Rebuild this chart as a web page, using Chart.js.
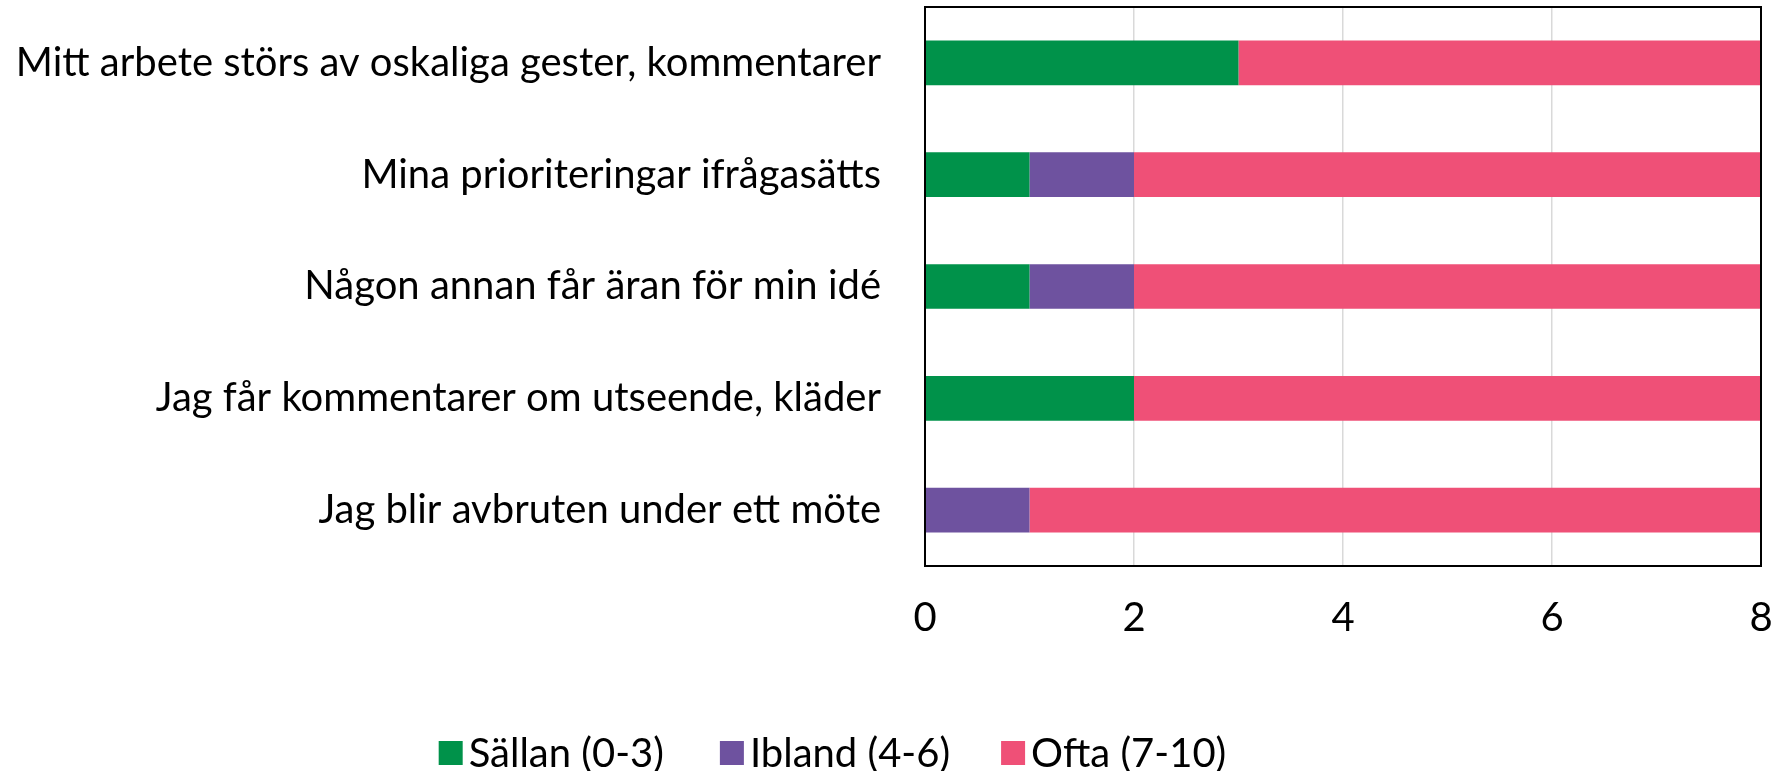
<!DOCTYPE html>
<html lang="sv">
<head>
<meta charset="utf-8">
<title>Upplevelser på jobbet</title>
<script src="https://cdn.jsdelivr.net/npm/chart.js@4.4.1/dist/chart.umd.min.js"></script>
<style>
  html, body { margin: 0; padding: 0; background: #ffffff; }
  #wrap { width: 1775px; height: 771px; position: relative; }
</style>
</head>
<body>
<div id="wrap"><canvas id="chart"></canvas></div>
<script>
// Data läst från bilden
const categories = [
  'Mitt arbete störs av oskaliga gester, kommentarer',
  'Mina prioriteringar ifrågasätts',
  'Någon annan får äran för min idé',
  'Jag får kommentarer om utseende, kläder',
  'Jag blir avbruten under ett möte'
];
const seriesNames = ['Sällan (0-3)', 'Ibland (4-6)', 'Ofta (7-10)'];
const sallan = [3, 1, 1, 2, 0];
const ibland = [0, 1, 1, 0, 1];
const ofta = [5, 6, 6, 6, 7];
const xTicks = [0, 2, 4, 6, 8];

const SERIES_COLORS = ['#00924A', '#6E529F', '#EF5077'];
const FONT_FAMILY = 'Lato, "Open Sans", sans-serif';
const FONT_SIZE = 40;

// Ram runt ritytan (som i Excel)
const plotBorder = {
  id: 'plotBorder',
  afterDatasetsDraw(chart) {
    const { ctx, chartArea: a } = chart;
    ctx.save();
    ctx.strokeStyle = '#000000';
    ctx.lineWidth = 2;
    ctx.strokeRect(a.left, a.top, a.right - a.left, a.bottom - a.top);
    ctx.restore();
  }
};

// Egen förklaring, centrerad som i originalet
const bottomLegend = {
  id: 'bottomLegend',
  afterDraw(chart) {
    const ctx = chart.ctx;
    const box = 24, gap = 6, spacing = 51;
    ctx.save();
    ctx.font = `${FONT_SIZE}px ${FONT_FAMILY}`;
    ctx.textBaseline = 'middle';
    ctx.textAlign = 'left';
    const items = chart.data.datasets.map(ds => ({
      text: ds.label,
      color: ds.backgroundColor,
      w: box + gap + ctx.measureText(ds.label).width
    }));
    const slot = Math.max(...items.map(i => i.w)) + spacing;
    const total = slot * (items.length - 1) + items[items.length - 1].w;
    let x = chart.width * 0.469 - total / 2;
    const y = chart.height - 18;
    items.forEach(it => {
      ctx.fillStyle = it.color;
      ctx.fillRect(x, y - box / 2, box, box);
      ctx.fillStyle = '#000000';
      ctx.fillText(it.text, x + box + gap, y + 1);
      x += slot;
    });
    ctx.restore();
  }
};

const datasets = [sallan, ibland, ofta].map((values, i) => ({
  label: seriesNames[i],
  data: values,
  backgroundColor: SERIES_COLORS[i],
  borderWidth: 0,
  categoryPercentage: 1.0,
  barPercentage: 0.4
}));

new Chart(document.getElementById('chart'), {
  type: 'bar',
  data: { labels: categories, datasets: datasets },
  options: {
    indexAxis: 'y',
    responsive: true,
    maintainAspectRatio: false,
    animation: false,
    layout: { padding: { top: 7, right: 14, bottom: 105, left: 0 } },
    plugins: {
      legend: { display: false },
      tooltip: { enabled: false }
    },
    scales: {
      x: {
        stacked: true,
        min: xTicks[0],
        max: xTicks[xTicks.length - 1],
        afterBuildTicks: scale => { scale.ticks = xTicks.map(v => ({ value: v })); },
        afterFit: scale => {
          scale.height = 100;
          scale.paddingLeft = 0;
          scale.paddingRight = 0;
        },
        ticks: {
          padding: 28,
          color: '#000000',
          font: { family: FONT_FAMILY, size: FONT_SIZE }
        },
        grid: { color: '#D9D9D9', lineWidth: 1.5, drawTicks: false },
        border: { display: false }
      },
      y: {
        stacked: true,
        afterFit: scale => {
          scale.width = 925;
          scale.paddingTop = 0;
          scale.paddingBottom = 0;
        },
        ticks: {
          padding: 44,
          color: '#000000',
          font: { family: FONT_FAMILY, size: FONT_SIZE }
        },
        grid: { display: false, drawTicks: false },
        border: { display: false }
      }
    }
  },
  plugins: [plotBorder, bottomLegend]
});
</script>
</body>
</html>
